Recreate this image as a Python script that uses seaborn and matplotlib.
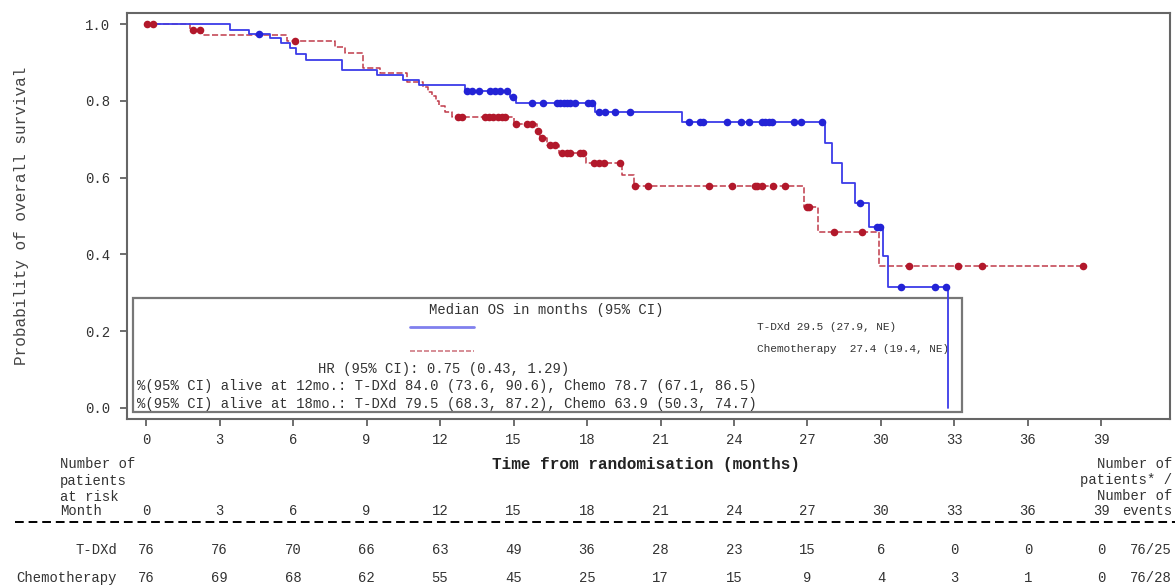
import numpy as np
import pandas as pd
import matplotlib
matplotlib.use("Agg")
import matplotlib.pyplot as plt
import matplotlib.transforms as mtransforms
from matplotlib.patches import Rectangle
import seaborn as sns

# ---- Kaplan-Meier step data (months, survival probability) ----
tdxd_time = [0.0, 3.43, 4.22, 5.06, 5.50, 5.88, 6.11, 6.52, 8.00, 9.42, 10.50,
             11.15, 13.00, 14.85, 15.10, 18.33, 21.87, 27.72, 28.00, 28.40,
             28.95, 29.50, 30.10, 30.27, 32.75]
tdxd_surv = [1.000, 0.984, 0.973, 0.964, 0.950, 0.937, 0.921, 0.906, 0.880,
             0.867, 0.854, 0.841, 0.826, 0.810, 0.795, 0.770, 0.744, 0.691,
             0.637, 0.587, 0.533, 0.472, 0.396, 0.314, 0.000]
tdxd_censor = [4.61, 13.10, 13.30, 13.60, 14.05, 14.25, 14.45, 14.73, 14.97,
               15.75, 16.22, 16.77, 16.90, 17.04, 17.18, 17.31, 17.52, 18.06,
               18.20, 18.47, 18.74, 19.15, 19.76, 22.18, 22.62, 22.75, 23.71,
               24.28, 24.63, 25.13, 25.27, 25.41, 25.54, 26.43, 26.73, 27.61,
               29.15, 29.83, 29.97, 30.80, 32.20, 32.65]

chemo_time = [0.0, 1.80, 2.27, 5.74, 7.72, 8.13, 8.87, 9.55, 10.65, 11.32,
              11.50, 11.68, 11.85, 11.97, 12.20, 12.48, 15.00, 15.95, 16.09,
              16.36, 16.87, 17.97, 19.42, 19.90, 26.87, 27.42, 29.94, 38.23]
chemo_surv = [1.000, 0.984, 0.971, 0.957, 0.941, 0.924, 0.885, 0.873, 0.850,
              0.837, 0.824, 0.812, 0.800, 0.787, 0.772, 0.759, 0.741, 0.722,
              0.702, 0.685, 0.665, 0.639, 0.607, 0.578, 0.524, 0.459, 0.371,
              0.371]
chemo_censor = [0.03, 0.27, 1.90, 2.20, 6.08, 12.75, 12.89, 13.84, 13.98,
                14.18, 14.38, 14.52, 14.66, 15.10, 15.54, 15.75, 16.00, 16.16,
                16.50, 16.70, 16.97, 17.17, 17.31, 17.72, 17.85, 18.27, 18.47,
                18.70, 19.35, 19.97, 20.50, 23.00, 23.91, 24.87, 24.93, 25.14,
                25.59, 26.09, 26.97, 27.08, 28.07, 29.22, 31.13, 33.14, 34.12,
                38.23]

# ---- numbers at risk ----
risk_months = [0, 3, 6, 9, 12, 15, 18, 21, 24, 27, 30, 33, 36, 39]
tdxd_at_risk = [76, 76, 70, 66, 63, 49, 36, 28, 23, 15, 6, 0, 0, 0]
chemo_at_risk = [76, 69, 68, 62, 55, 45, 25, 17, 15, 9, 4, 3, 1, 0]
tdxd_events = "76/25"
chemo_events = "76/28"

yticks = [0.0, 0.2, 0.4, 0.6, 0.8, 1.0]

legend_title = "Median OS in months (95% CI)"
tdxd_median = "T-DXd 29.5 (27.9, NE)"
chemo_median = "Chemotherapy  27.4 (19.4, NE)"
hr_text = "HR (95% CI): 0.75 (0.43, 1.29)"
alive12 = "%(95% CI) alive at 12mo.: T-DXd 84.0 (73.6, 90.6), Chemo 78.7 (67.1, 86.5)"
alive18 = "%(95% CI) alive at 18mo.: T-DXd 79.5 (68.3, 87.2), Chemo 63.9 (50.3, 74.7)"

BLUE_LINE = "#3c3ce8"
BLUE_DOT = "#2323d6"
RED_LINE = "#c03a4a"
RED_DOT = "#b2182b"
TXT = "#333333"
MONO = "Liberation Mono"

sns.set_style("white")
plt.rcParams["font.family"] = [MONO, "DejaVu Sans Mono"]


def step_value(times, surv, t):
    idx = np.searchsorted(np.asarray(times), t, side="right") - 1
    return np.asarray(surv)[idx]


tdxd_df = pd.DataFrame({"month": tdxd_time, "surv": tdxd_surv})
chemo_df = pd.DataFrame({"month": chemo_time, "surv": chemo_surv})
tdxd_cens = pd.DataFrame({"month": tdxd_censor,
                          "surv": [step_value(tdxd_time, tdxd_surv, t) for t in tdxd_censor]})
chemo_cens = pd.DataFrame({"month": chemo_censor,
                           "surv": [step_value(chemo_time, chemo_surv, t) for t in chemo_censor]})

fig = plt.figure(figsize=(11.75, 5.87), dpi=100)
ax = fig.add_axes([127 / 1175, 1 - 419 / 587, 1043 / 1175, 406 / 587])

# summary box inside the plot
box = Rectangle((0.0058, 0.017), 0.795, 0.281, transform=ax.transAxes,
                facecolor="white", edgecolor="#777777", lw=1.6, zorder=1)
ax.add_patch(box)

sns.lineplot(data=chemo_df, x="month", y="surv", ax=ax, estimator=None, sort=False,
             drawstyle="steps-post", color=RED_LINE, lw=1.1,
             linestyle=(0, (4, 1.6)), zorder=3)
sns.lineplot(data=tdxd_df, x="month", y="surv", ax=ax, estimator=None, sort=False,
             drawstyle="steps-post", color=BLUE_LINE, lw=1.3, zorder=4)
sns.scatterplot(data=chemo_cens, x="month", y="surv", ax=ax, color=RED_DOT,
                s=30, linewidth=0, zorder=5)
sns.scatterplot(data=tdxd_cens, x="month", y="surv", ax=ax, color=BLUE_DOT,
                s=30, linewidth=0, zorder=6)

ax.set_xlim(-0.78, 41.8)
ax.set_ylim(-0.029, 1.029)
ax.set_xticks(risk_months)
ax.set_xticklabels([str(m) for m in risk_months])
ax.set_yticks(yticks)
ax.set_yticklabels([f"{v:.1f}" for v in yticks])
ax.tick_params(axis="both", which="major", direction="out", length=5, width=1.2,
               color="#555555", labelsize=10, labelcolor=TXT, bottom=True, left=True)
ax.tick_params(axis="y", pad=7)
ax.tick_params(axis="x", pad=5)
for side in ["left", "bottom", "top", "right"]:
    ax.spines[side].set_color("#666666")
    ax.spines[side].set_linewidth(1.5)

ax.set_xlabel("Time from randomisation (months)", fontsize=11.5,
              fontweight="bold", color="#222222")
ax.xaxis.set_label_coords(0.4976, -0.111)
ax.xaxis.label.set_va("center")
ax.set_ylabel("Probability of overall survival", fontsize=11.5, color="#444444")
ax.yaxis.set_label_coords(-0.1007, 0.5)
ax.yaxis.label.set_va("center")

# box contents
ax.text(0.4017, 0.2685, legend_title, transform=ax.transAxes, ha="center",
        va="center", fontsize=10, color=TXT, zorder=2)
ax.plot([0.2713, 0.3327], [0.2266, 0.2266], transform=ax.transAxes,
        color="#8080ee", lw=2.0, zorder=2)
ax.plot([0.2713, 0.3327], [0.1675, 0.1675], transform=ax.transAxes,
        color="#d07a84", lw=1.2, linestyle=(0, (3, 1.2)), zorder=2)
ax.text(0.604, 0.2266, tdxd_median, transform=ax.transAxes, ha="left",
        va="center", fontsize=8, color=TXT, zorder=2)
ax.text(0.604, 0.1724, chemo_median, transform=ax.transAxes, ha="left",
        va="center", fontsize=8, color=TXT, zorder=2)
ax.text(0.1831, 0.1232, hr_text, transform=ax.transAxes, ha="left",
        va="center", fontsize=10, color=TXT, zorder=2)
ax.text(0.0096, 0.0813, alive12, transform=ax.transAxes, ha="left",
        va="center", fontsize=10, color=TXT, zorder=2)
ax.text(0.0096, 0.0369, alive18, transform=ax.transAxes, ha="left",
        va="center", fontsize=10, color=TXT, zorder=2)

# number-at-risk table under the plot
blend = mtransforms.blended_transform_factory(ax.transData, fig.transFigure)


def fy(px):
    return 1 - px / 587


for txt, py in [("Number of", 464), ("patients", 481), ("at risk", 497), ("Month", 511)]:
    fig.text(60 / 1175, fy(py), txt, ha="left", va="center", fontsize=10, color=TXT)
for txt, py in [("Number of", 464), ("patients* /", 480), ("Number of", 496), ("events", 511)]:
    fig.text(1172 / 1175, fy(py), txt, ha="right", va="center", fontsize=10, color=TXT)

for m in risk_months:
    fig.text(m, fy(511), str(m), transform=blend, ha="center", va="center",
             fontsize=10, color=TXT)

fig.add_artist(plt.Line2D([15 / 1175, 1.0], [fy(522), fy(522)], transform=fig.transFigure,
                          color="black", lw=1.4, linestyle=(0, (4.5, 2.5))))

fig.text(117 / 1175, fy(550), "T-DXd", ha="right", va="center", fontsize=10, color=TXT)
fig.text(117 / 1175, fy(578), "Chemotherapy", ha="right", va="center", fontsize=10, color=TXT)
for m, a, b in zip(risk_months, tdxd_at_risk, chemo_at_risk):
    fig.text(m, fy(550), str(a), transform=blend, ha="center", va="center",
             fontsize=10, color=TXT)
    fig.text(m, fy(578), str(b), transform=blend, ha="center", va="center",
             fontsize=10, color=TXT)
fig.text(1172 / 1175, fy(550), tdxd_events, ha="right", va="center", fontsize=10, color=TXT)
fig.text(1172 / 1175, fy(578), chemo_events, ha="right", va="center", fontsize=10, color=TXT)

fig.savefig("out.png", dpi=100, facecolor="white")
